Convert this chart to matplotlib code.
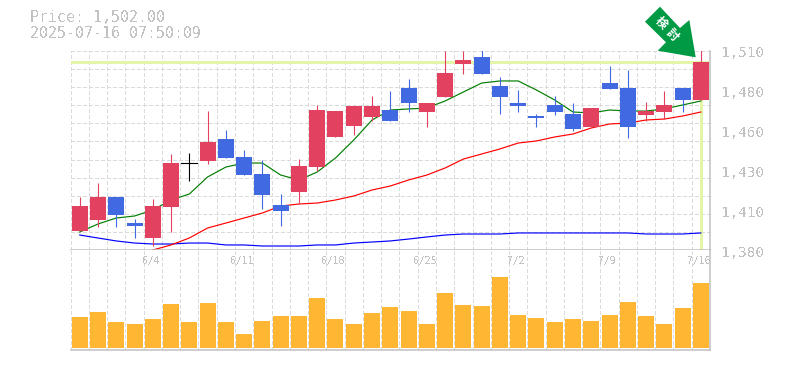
import matplotlib
matplotlib.use("Agg")
import matplotlib.pyplot as plt
from matplotlib.patches import Polygon, Rectangle
import numpy as np

W, H = 785, 370

opens = [1396.6,1403.5,1417.9,1401.6,1392.25,1411.6,1439.0,1440.4,1454.1,1442.9,1432.25,1412.9,1421.0,1436.6,1455.4,1462.25,1467.9,1472.25,1486.0,1471.0,1480.4,1501.0,1505.4,1487.25,1476.6,1468.5,1475.4,1469.75,1461.6,1489.1,1486.0,1469.1,1471.0,1486.0,1478.5]
closes = [1412.25,1417.9,1406.6,1399.75,1412.25,1439.1,1439.0,1452.25,1442.25,1431.6,1419.1,1409.1,1437.25,1472.25,1471.6,1474.75,1474.75,1465.4,1476.6,1476.6,1495.4,1503.5,1494.75,1480.4,1474.75,1467.25,1471.0,1460.4,1473.5,1485.4,1461.6,1471.6,1475.4,1478.5,1502.0]
highs = [1417.9,1426.6,1417.9,1404.1,1416.6,1444.75,1445.4,1471.6,1459.75,1447.25,1441.0,1419.75,1441.6,1475.4,1471.6,1474.75,1481.0,1484.1,1491.6,1476.6,1509.1,1509.1,1509.75,1492.9,1484.75,1469.75,1481.0,1476.6,1473.5,1499.75,1497.25,1477.25,1484.1,1486.0,1509.75]
lows = [1396.6,1399.1,1399.1,1392.25,1387.25,1396.0,1427.9,1438.5,1442.25,1431.6,1410.4,1399.75,1414.1,1434.1,1455.4,1456.6,1465.4,1465.4,1471.0,1461.6,1480.4,1494.75,1494.75,1469.75,1471.0,1461.6,1469.1,1459.1,1461.6,1485.4,1454.75,1465.4,1466.6,1471.0,1478.5]
ma_short = [1396.0,1401.0,1404.75,1406.0,1409.75,1416.0,1419.75,1430.4,1436.6,1439.1,1439.1,1431.6,1428.5,1433.5,1442.25,1453.5,1466.0,1472.25,1472.9,1473.5,1477.9,1483.5,1489.1,1490.4,1490.4,1484.75,1478.5,1471.0,1470.4,1472.25,1471.6,1471.6,1472.9,1475.4,1477.9]
ma_mid = [1384.75,1387.9,1392.25,1398.5,1401.6,1404.75,1407.9,1412.25,1413.5,1414.1,1416.0,1418.5,1422.25,1424.75,1428.5,1431.6,1436.0,1441.6,1444.75,1447.9,1451.6,1452.9,1455.4,1457.25,1461.0,1463.5,1464.1,1466.0,1466.6,1468.5,1471.0]
ma_mid_start = 4
ma_long = [1394.1,1392.25,1390.4,1389.1,1388.5,1388.5,1389.1,1389.1,1387.9,1387.9,1387.25,1387.25,1387.25,1387.9,1387.9,1389.1,1389.75,1390.4,1391.6,1392.9,1394.1,1394.75,1394.75,1394.75,1395.4,1395.4,1395.4,1395.4,1395.4,1395.4,1395.4,1394.75,1394.75,1394.75,1395.4]
volumes = [31.3,36.3,26.3,24.3,29.3,44.3,26.3,45.3,26.3,14.3,27.3,32.3,32.3,50.3,29.3,24.3,35.3,41.3,37,24,55,43,42,71,33,30,26,29,27,33,46,32,24,40,65]
date_labels = ["6/4","6/11","6/18","6/25","7/2","7/9","7/16"]
date_index = [4,9,14,19,24,29,34]
price_labels = ["1,510","1,480","1,460","1,430","1,410","1,380"]
price_ticks = [1507.9,1482.9,1457.9,1432.9,1407.9,1382.9]
last_price = 1502.0
header = ["Price: 1,502.00","2025-07-16 07:50:09"]
badge = ["検","討"]

UP, DOWN = "#e2415f", "#4169e1"
GRID, AXC, TXT = "#dadada", "#c0c0c0", "#c2c2c2"
HILITE = "#e2f5a8"
MONO = "DejaVu Sans Mono"
DASH = (0, (3, 2.2))
n = len(opens)

fig = plt.figure(figsize=(W/100, H/100), dpi=100, facecolor="white")
L, R = 70.6, 710.0
ax = fig.add_axes([L/W, 1-250/H, (R-L)/W, 199/H])
axv = fig.add_axes([L/W, 1-350/H, (R-L)/W, 100/H])
ax.set_xlim(-0.5, n-0.5); axv.set_xlim(-0.5, n-0.5)
ax.set_ylim(1384.75, 1509.125)
axv.set_ylim(-2, 98)

for a in (ax, axv):
    a.set_xticks(np.arange(n+1)-0.5)
    a.set_xticklabels([])
    a.tick_params(length=0, labelleft=False)
    a.set_yticks([])
    a.grid(axis="x", color=GRID, lw=0.72, ls=DASH, zorder=0, antialiased=False)
    a.set_axisbelow(True)
    for s in a.spines.values():
        s.set_visible(False)
    a.spines["right"].set_visible(True); a.spines["right"].set_color(AXC); a.spines["right"].set_linewidth(1.1)
    a.spines["bottom"].set_visible(True); a.spines["bottom"].set_color(AXC); a.spines["bottom"].set_linewidth(1.1)

for yv in np.linspace(1384.75, 1509.125, 12)[1:]:
    ax.axhline(yv, color=GRID, lw=0.72, ls=DASH, zorder=0.5, clip_on=False, antialiased=False)

ax.axhline(last_price, color=HILITE, lw=2.2, zorder=1)
ax.plot([n-1, n-1], [1384.75, last_price], color=HILITE, lw=2.2, zorder=1, solid_capstyle="butt")

x = np.arange(n)
ax.plot(x, ma_long, color="#0000ff", lw=0.85, zorder=2)
ax.plot(x[ma_mid_start:], ma_mid, color="#ff0000", lw=0.85, zorder=2, clip_on=False)
ax.plot(x, ma_short, color="#007f00", lw=0.85, zorder=2)

w = 16/18.27
for i in range(n):
    o, c, hi, lo = opens[i], closes[i], highs[i], lows[i]
    col = UP if c > o else DOWN if c < o else "black"
    ax.plot([i, i], [lo, hi], color=col, lw=0.8, zorder=3, solid_capstyle="butt")
    if c == o:
        ax.plot([i-w/2, i+w/2], [c, c], color=col, lw=0.8, zorder=3)
    else:
        ax.add_patch(Rectangle((i-w/2, min(o, c)), w, abs(c-o), fc=col, ec="none", zorder=4))

axv.bar(x, volumes, width=w, color="#ffb733", zorder=3)

for i, lab in zip(date_index, date_labels):
    t = axv.annotate(lab, xy=(i, 1), xycoords=axv.get_xaxis_transform(), xytext=(-2, -11), textcoords="offset pixels",
                 ha="center", va="center", color=TXT, fontsize=7.0, family=MONO, annotation_clip=False)
    t.set_antialiased(False)
for p, lab in zip(price_ticks, price_labels):
    t = ax.annotate(lab, xy=(1, p), xycoords=ax.get_yaxis_transform(), xytext=(11, 0), textcoords="offset pixels",
                ha="left", va="center", color=TXT, fontsize=10.3, family=MONO, annotation_clip=False)
    t.set_antialiased(False)

for line, ypx in zip(header, (18, 33)):
    t = fig.text(30/W, 1-ypx/H, line, color=TXT, fontsize=10.7, family=MONO, va="center")
    t.set_antialiased(False)

arrow_px = [(660,6.7),(680,28),(689.3,20),(695.7,57.3),(657.7,50.7),(666,42.3),(645,21.7)]
fig.add_artist(Polygon([(px/W, 1-py/H) for px, py in arrow_px], closed=True, fc="#009944", ec="none",
                       transform=fig.transFigure, zorder=10))
for ch, (bx, by) in zip(badge, [(660.7, 22.7), (672, 35)]):
    fig.text(bx/W, 1-by/H, ch, color="white", fontsize=8.5, fontweight="bold", rotation=-45,
             rotation_mode="anchor", ha="center", va="center", family="Noto Sans CJK JP", zorder=11)

fig.savefig("out.png", dpi=100)
